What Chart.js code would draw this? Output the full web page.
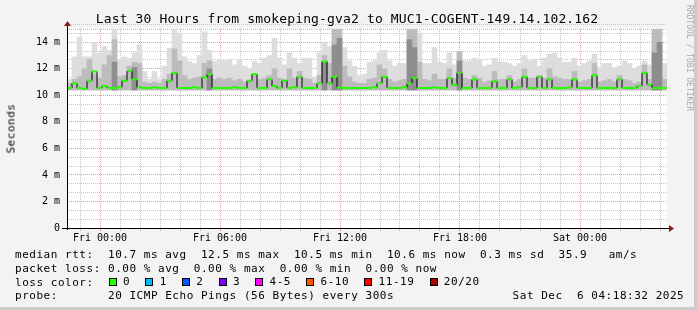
<!DOCTYPE html>
<html>
<head>
<meta charset="utf-8">
<script src="https://cdn.jsdelivr.net/npm/chart.js@4.4.1/dist/chart.umd.min.js"></script>
<style>
  body { margin: 0; background: #f3f3f3; }
  #wrap { position: relative; width: 697px; height: 310px; overflow: hidden; background: #f3f3f3;
          font-family: 'DejaVu Sans Mono', monospace; color: #000; }
  #wrap canvas { position: absolute; left: 0; top: 0; }
  .t { position: absolute; white-space: pre; font-size: 11px; line-height: 11px; letter-spacing: 0.53px; }
  #title { position: absolute; left: 0; width: 694px; top: 12.3px; text-align: center; white-space: pre;
           font-size: 13px; line-height: 13px; letter-spacing: 0.15px; }
  #ylab { position: absolute; left: -19.5px; top: 123px; width: 60px; text-align: center; transform: rotate(-90deg); }
  #brand { position: absolute; left: 634px; top: 54px; width: 110px; text-align: center; font-size: 8px; line-height: 8px;
           color: #a8a8a8; white-space: pre; transform: rotate(90deg); }
  #loss { position: absolute; left: 108.7px; top: 278px; display: flex; align-items: center; }
  #loss .box { width: 8px; height: 8px; box-sizing: border-box; border: 1px solid #000; margin-right: 6.3px; }
  #loss .lbl { font-size: 11px; line-height: 8px; letter-spacing: 0.53px; margin-right: 15.2px; white-space: pre; }
  .edgeR { position: absolute; right: 0; top: 0; width: 3px; height: 310px; background: #cbcbcb; }
  .edgeB { position: absolute; left: 0; bottom: 0; width: 697px; height: 3px; background: #cbcbcb; }
</style>
</head>
<body>
<div id="wrap">
  <canvas id="c" width="697" height="310"></canvas>
  <div id="title">Last 30 Hours from smokeping-gva2 to MUC1-COGENT-149.14.102.162</div>
  <div id="ylab" class="t">Seconds</div>
  <div id="brand">RRDTOOL / TOBI OETIKER</div>
  <div class="t" style="left:15px;top:249.3px">median rtt:  10.7 ms avg  12.5 ms max  10.5 ms min  10.6 ms now  0.3 ms sd  35.9   am/s</div>
  <div class="t" style="left:15px;top:262.9px">packet loss: 0.00 % avg  0.00 % max  0.00 % min  0.00 % now</div>
  <div class="t" style="left:15px;top:276.5px">loss color:</div>
  <div id="loss"></div>
  <div class="t" style="left:15px;top:290.1px">probe:       20 ICMP Echo Pings (56 Bytes) every 300s</div>
  <div class="t" style="left:512.6px;top:290.1px">Sat Dec  6 04:18:32 2025</div>
  <div class="edgeR"></div>
  <div class="edgeB"></div>
</div>
<script>
const FONT = "'DejaVu Sans Mono', monospace"

// time axis, hours from Fri 00:00; one value per 15 minutes
const viewStart = -1.65
const viewEnd = 28.35
const firstBin = -1.525
const binHours = 0.25

const median = [
  10.55, 10.9, 10.55, 10.5, 11.1, 11.8, 10.55, 10.7, 10.55, 10.55,
  10.6, 11.1, 11.85, 11.2, 10.6, 10.55, 10.55, 10.6, 10.55, 10.55,
  11.1, 11.7, 10.55, 10.55, 10.55, 10.6, 10.55, 11.35, 11.6, 10.55,
  10.55, 10.55, 10.55, 10.6, 10.55, 10.55, 11.1, 11.6, 10.55, 10.55,
  11.2, 10.7, 10.55, 11.1, 10.55, 10.6, 11.4, 10.55, 10.55, 10.55,
  10.9, 12.55, 10.9, 11.4, 10.6, 10.55, 10.55, 10.55, 10.55, 10.55,
  10.55, 10.6, 10.9, 11.4, 10.55, 10.55, 10.55, 10.6, 10.9, 11.3,
  10.55, 10.55, 10.55, 10.6, 10.55, 10.55, 11.3, 10.8, 11.7, 10.55,
  10.55, 11.2, 10.55, 10.55, 10.55, 11.05, 10.55, 10.55, 11.2, 10.55,
  10.6, 11.4, 10.55, 10.55, 11.4, 10.55, 11.2, 10.55, 10.55, 10.55,
  10.6, 11.2, 10.55, 10.55, 10.55, 11.5, 10.55, 10.55, 10.55, 10.55,
  11.2, 10.55, 10.55, 10.55, 10.7, 11.7, 10.8, 10.55, 10.55, 10.55
]

// smoke: highest ping, inner spread, densest core
const smokeHi = [
  11.2, 12.9, 14.4, 12.9, 12.9, 14.0, 13.2, 13.7, 13.4, 15.0,
  12.7, 12.9, 12.8, 13.2, 13.8, 11.8, 11.2, 11.8, 11.2, 12.2,
  13.55, 15.0, 14.7, 12.9, 12.55, 12.4, 13.0, 14.8, 13.4, 12.55,
  12.7, 12.6, 12.7, 12.3, 12.7, 12.2, 12.0, 12.55, 12.4, 12.8,
  13.0, 14.3, 12.8, 12.3, 13.2, 12.8, 12.4, 12.8, 12.8, 11.4,
  13.2, 14.0, 13.7, 15.0, 15.0, 13.6, 12.6, 12.2, 11.5, 11.6,
  12.5, 12.6, 13.2, 13.4, 12.6, 12.2, 12.4, 12.4, 15.0, 15.0,
  14.7, 12.4, 12.4, 13.6, 12.5, 12.4, 13.2, 12.3, 13.3, 12.6,
  12.6, 12.8, 12.7, 12.2, 12.3, 12.8, 12.5, 12.5, 12.4, 12.2,
  12.4, 13.0, 12.6, 12.7, 12.2, 12.8, 13.1, 13.2, 12.8, 12.5,
  12.5, 12.8, 12.2, 12.4, 12.6, 13.1, 12.1, 12.4, 12.4, 12.1,
  12.2, 12.6, 12.4, 12.0, 12.2, 12.6, 12.3, 15.0, 15.0, 12.4
]
const smokeMid = [
  10.9, 11.2, 11.4, 12.0, 12.7, 11.6, 11.3, 12.3, 13.0, 14.2,
  11.4, 11.5, 12.2, 12.5, 12.4, 11.0, 10.9, 11.0, 10.9, 11.2,
  11.6, 13.5, 12.6, 11.5, 11.2, 11.3, 11.4, 12.4, 12.6, 11.2,
  11.3, 11.2, 11.3, 11.1, 11.2, 11.0, 11.1, 11.6, 11.2, 11.3,
  11.5, 12.0, 11.3, 11.2, 12.0, 11.3, 11.8, 11.3, 11.2, 10.9,
  11.5, 13.0, 12.4, 15.0, 15.0, 12.2, 11.4, 11.0, 10.9, 10.9,
  11.2, 11.3, 12.3, 12.0, 11.2, 11.0, 11.1, 11.2, 15.0, 15.0,
  12.5, 11.2, 11.1, 11.6, 11.2, 11.2, 12.0, 11.3, 13.3, 11.3,
  11.2, 11.5, 11.3, 11.0, 11.1, 11.8, 11.2, 11.2, 11.5, 11.0,
  11.2, 12.0, 11.3, 11.3, 11.5, 11.3, 12.0, 11.4, 11.3, 11.2,
  11.2, 11.8, 11.0, 11.1, 11.2, 12.4, 11.0, 11.1, 11.2, 11.0,
  11.5, 11.2, 11.1, 10.9, 11.0, 12.3, 11.2, 15.0, 15.0, 11.2
]
const smokeDark = [
  null, null, null, null, null, null, null, null, null, 12.5,
  null, null, null, 12.1, null, null, null, null, null, null,
  null, null, null, null, null, null, null, null, 12.0, null,
  null, null, null, null, null, null, null, null, null, null,
  null, null, null, null, null, null, null, null, null, null,
  null, 12.5, null, 13.8, 14.3, null, null, null, null, null,
  null, null, null, null, null, null, null, null, 14.2, 13.6,
  null, null, null, null, null, null, null, null, 12.6, null,
  null, null, null, null, null, null, null, null, null, null,
  null, null, null, null, null, null, null, null, null, null,
  null, null, null, null, null, null, null, null, null, null,
  null, null, null, null, null, null, null, 13.2, 14.0, null
]
const smokeFloor = 10.4

const xTickHours = [0, 6, 12, 18, 24]
const xTickNames = ['Fri 00:00', 'Fri 06:00', 'Fri 12:00', 'Fri 18:00', 'Sat 00:00']
const yTickValues = [0, 2, 4, 6, 8, 10, 12, 14]
const yTickNames = ['0', '2 m', '4 m', '6 m', '8 m', '10 m', '12 m', '14 m']
const yMax = 15

const lossNames = ['0', '1', '2', '3', '4-5', '6-10', '11-19', '20/20']
const lossColors = ['#26ff00', '#00b8ff', '#0059ff', '#7e00ff', '#ff00ff', '#ff5500', '#ff0000', '#a10000']

// loss colour legend
const lossBox = document.getElementById('loss')
lossNames.forEach((name, i) => {
  const b = document.createElement('span')
  b.className = 'box'
  b.style.background = lossColors[i]
  const l = document.createElement('span')
  l.className = 'lbl'
  l.textContent = name
  lossBox.appendChild(b)
  lossBox.appendChild(l)
})

const times = median.map((_, i) => firstBin + i * binHours)
const pts = arr => arr.map((v, i) => ({ x: times[i], y: v }))
const band = arr => arr.map((v, i) => ({ x: times[i], y: v == null ? null : [smokeFloor, v] }))

const RED = 'rgba(222,120,120,0.75)'
const GREY = 'rgba(190,190,190,0.9)'

const frame = {
  id: 'frame',
  beforeDraw(chart) {
    const { ctx, chartArea: a } = chart
    ctx.save()
    ctx.fillStyle = '#ffffff'
    ctx.fillRect(a.left, a.top, a.right - a.left, a.bottom - a.top)
    ctx.restore()
  },
  afterDraw(chart) {
    const { ctx, chartArea: a } = chart
    const x0 = Math.round(a.left) + 0.5
    const y0 = Math.round(a.bottom) + 0.5
    ctx.save()
    ctx.strokeStyle = '#000'
    ctx.lineWidth = 1
    ctx.beginPath()
    ctx.moveTo(a.left - 5, y0)
    ctx.lineTo(a.right + 3, y0)
    ctx.moveTo(x0, a.bottom + 2)
    ctx.lineTo(x0, a.top - 3)
    ctx.stroke()
    // arrow heads
    ctx.fillStyle = '#8b1a1a'
    ctx.beginPath()
    ctx.moveTo(x0 - 3.5, a.top - 3)
    ctx.lineTo(x0 + 3.5, a.top - 3)
    ctx.lineTo(x0, a.top - 8)
    ctx.closePath()
    ctx.fill()
    ctx.beginPath()
    ctx.moveTo(a.right + 2, y0 - 3.5)
    ctx.lineTo(a.right + 2, y0 + 3.5)
    ctx.lineTo(a.right + 7, y0)
    ctx.closePath()
    ctx.fill()
    ctx.restore()
  }
}

new Chart(document.getElementById('c'), {
  type: 'bar',
  plugins: [frame],
  data: {
    datasets: [
      {
        type: 'line', label: 'median', data: pts(median), showLine: false,
        pointStyle: 'line', pointRadius: 2.5, pointBorderWidth: 2,
        pointBorderColor: lossColors[0], pointBackgroundColor: lossColors[0], order: 0
      },
      {
        type: 'line', label: 'median line', data: pts(median), stepped: 'middle',
        borderColor: '#000', borderWidth: 1, pointRadius: 0, order: 1
      },
      { label: 'smoke core', data: band(smokeDark), backgroundColor: '#8e8e8e', order: 2 },
      { label: 'smoke inner', data: band(smokeMid), backgroundColor: '#bcbcbc', order: 3 },
      { label: 'smoke', data: band(smokeHi), backgroundColor: '#dddddd', order: 4 }
    ]
  },
  options: {
    responsive: false,
    animation: false,
    layout: { padding: { left: 0, top: 29, right: 30, bottom: 0 } },
    datasets: { bar: { barPercentage: 1, categoryPercentage: 1, borderWidth: 0, grouped: false } },
    scales: {
      x: {
        type: 'linear', min: viewStart, max: viewEnd, offset: false, z: 1,
        afterFit(s) { s.height = 82 },
        afterBuildTicks(s) {
          const t = []
          for (let h = Math.ceil(viewStart); h < viewEnd; h++) t.push({ value: h })
          s.ticks = t
        },
        ticks: {
          autoSkip: false, maxRotation: 0, padding: 1, color: '#000',
          font: { family: FONT, size: 10 },
          callback(v) { const k = xTickHours.indexOf(v); return k < 0 ? '' : xTickNames[k] }
        },
        grid: {
          offset: false, drawTicks: true, tickLength: 3,
          color: c => (c.tick && c.tick.value % 6 === 0 ? RED : GREY)
        },
        border: { display: false, dash: [1, 1] }
      },
      y: {
        min: 0, max: yMax, z: 1,
        afterFit(s) { s.width = 67 },
        afterBuildTicks(s) {
          const t = []
          yTickValues.forEach(v => { t.push({ value: v }, { value: v + 2 / 3 }, { value: v + 4 / 3 }) })
          t.push({ value: yMax })
          s.ticks = t
        },
        ticks: {
          autoSkip: false, padding: 7, color: '#000',
          font: { family: FONT, size: 10 },
          callback(v) { const k = yTickValues.indexOf(v); return k < 0 ? '' : yTickNames[k] }
        },
        grid: {
          drawTicks: false,
          color: c => (c.tick && yTickValues.includes(c.tick.value) ? RED : GREY)
        },
        border: { display: false, dash: [1, 1] }
      }
    },
    plugins: { legend: { display: false }, tooltip: { enabled: false } }
  }
})
</script>
</body>
</html>
